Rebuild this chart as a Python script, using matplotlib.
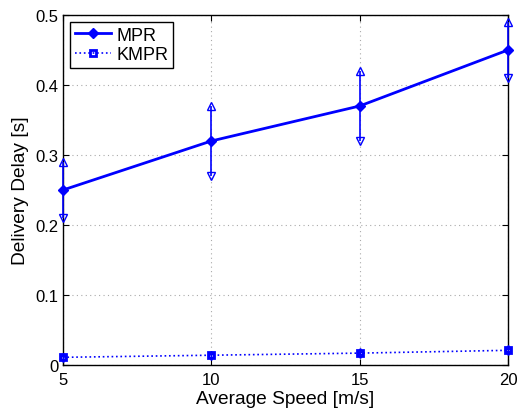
import matplotlib
matplotlib.use("Agg")
import matplotlib.pyplot as plt
import numpy as np

plt.rcParams['font.family'] = ['Liberation Sans', 'DejaVu Sans']

speed = [5, 10, 15, 20]
mpr = [0.25, 0.32, 0.37, 0.45]
mpr_err = [0.04, 0.05, 0.05, 0.04]
kmpr = [0.011, 0.014, 0.017, 0.021]
kmpr_err = [0.002, 0.002, 0.003, 0.003]
xticks = [5, 10, 15, 20]
yticks = [0, 0.1, 0.2, 0.3, 0.4, 0.5]
ytick_labels = ['0', '0.1', '0.2', '0.3', '0.4', '0.5']

fig = plt.figure(figsize=(5.18, 4.14), dpi=100)
ax = fig.add_axes([0.1216, 0.1159, 0.8591, 0.8455])

blue = '#0000ff'
x = np.array(speed)
m = np.array(mpr); me = np.array(mpr_err)
k = np.array(kmpr); ke = np.array(kmpr_err)

ax.plot(x, m, '-', color=blue, lw=2, marker='D', ms=5, mfc=blue, label='MPR', zorder=3, clip_on=False)
ax.vlines(x, m - me, m + me, color=blue, lw=1.2, zorder=3, clip_on=False)
ax.plot(x, m + me, '^', color=blue, mfc='none', ms=6, mew=1, ls='none', zorder=3, clip_on=False)
ax.plot(x, m - me, 'v', color=blue, mfc='none', ms=6, mew=1, ls='none', zorder=3, clip_on=False)

ax.plot(x, k, ':', color=blue, lw=1.2, marker='s', ms=4.5, mfc='none', mew=2, label='KMPR', zorder=3, clip_on=False)
ax.vlines(x, k - ke, k + ke, color=blue, lw=1, zorder=3, clip_on=False)
ax.plot(x, k + ke, '^', color=blue, mfc='none', ms=4, mew=1, ls='none', zorder=3, clip_on=False)
ax.plot(x, k - ke, 'v', color=blue, mfc='none', ms=4, mew=1, ls='none', zorder=3, clip_on=False)

ax.set_xlim(5, 20)
ax.set_ylim(0, 0.5)
ax.set_xticks(xticks)
ax.set_yticks(yticks)
ax.set_yticklabels(ytick_labels)
ax.tick_params(direction='in', labelsize=12, length=4, top=True, right=True)
ax.tick_params(axis='x', pad=5)
ax.grid(True, linestyle=(0, (1, 3)), color='#aaaaaa', lw=0.8)
for s in ax.spines.values():
    s.set_linewidth(1)
ax.set_xlabel('Average Speed [m/s]', fontsize=13.8, labelpad=2)
ax.set_ylabel('Delivery Delay [s]', fontsize=13.8)

leg = ax.legend(loc='upper left', fontsize=13, frameon=True, fancybox=False,
                edgecolor='black', framealpha=1, handlelength=2.0, borderpad=0.25,
                labelspacing=0.15, handletextpad=0.3, borderaxespad=0.4)
leg.get_frame().set_linewidth(1)

fig.savefig('out.png', dpi=100)
